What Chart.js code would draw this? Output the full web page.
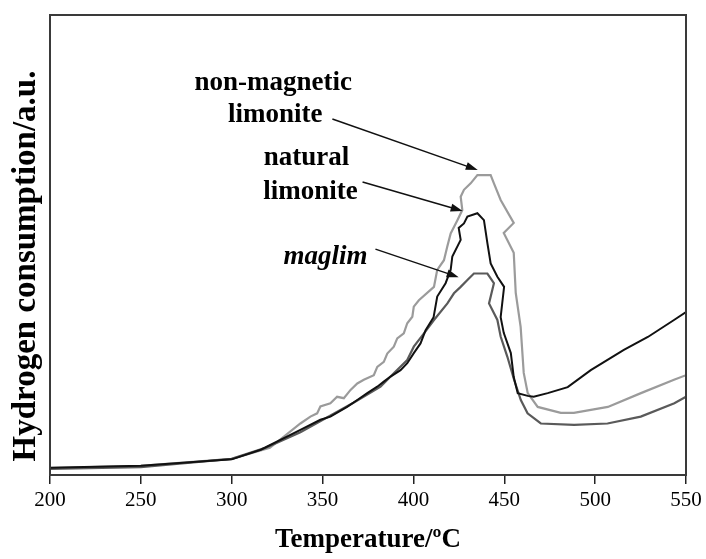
<!DOCTYPE html>
<html>
<head>
<meta charset="utf-8">
<script src="https://cdn.jsdelivr.net/npm/chart.js@4.4.1/dist/chart.umd.min.js"></script>
<style>
  html, body { margin: 0; padding: 0; background: #fff; }
  #wrap { width: 706px; height: 559px; }
</style>
</head>
<body>
<div id="wrap"><canvas id="tprChart" width="706" height="559"></canvas></div>
<script>
// H2-TPR profiles (temperature in °C, consumption in a.u. 0-100)
const nonMagT = [200, 250, 300, 321, 337.8, 343.3, 347.0, 348.8, 354.3, 358.0, 361.7, 365.4, 369.1, 372.7, 378.2, 380.1, 383.7, 385.6, 389.2, 391.1, 394.7, 396.6, 399.4, 400.2, 403.0, 411.3, 413.1, 416.8, 418.6, 420.5, 424.2, 426.9, 426.0, 427.8, 431.5, 435.2, 442.5, 444.3, 448.0, 455.2, 449.7, 455.2, 456.3, 459.0, 460.7, 462.9, 468.4, 481.1, 488.3, 507.0, 525.2, 543.4, 550];
const nonMagH = [1.5, 2.0, 3.5, 5.9, 11.2, 12.7, 13.4, 14.9, 15.6, 17.0, 16.7, 18.5, 19.9, 20.7, 21.7, 23.5, 24.6, 26.4, 27.9, 29.7, 30.8, 33.0, 34.4, 36.6, 38.0, 40.9, 44.6, 46.7, 49.6, 52.5, 55.4, 57.6, 60.5, 62.0, 63.4, 65.2, 65.2, 63.4, 59.8, 54.8, 52.6, 48.3, 39.6, 32.2, 22.2, 17.8, 14.8, 13.5, 13.5, 14.8, 17.8, 20.7, 21.7];

const naturalT = [200, 250, 300, 316, 337.8, 348.8, 354.3, 363.5, 369.1, 374.6, 380.1, 383.7, 387.4, 392.9, 396.6, 400.2, 403.9, 406.7, 411.1, 413.1, 417.7, 420.5, 421.4, 426.0, 424.9, 427.8, 429.7, 435.2, 438.8, 440.7, 442.5, 446.2, 449.9, 448.0, 449.7, 453.6, 455.2, 457.4, 462.9, 466.2, 473.9, 484.9, 497.6, 515.8, 529.0, 543.4, 550];
const naturalH = [1.6, 2.0, 3.4, 5.5, 9.8, 12.0, 12.7, 14.8, 16.3, 17.8, 19.2, 20.3, 21.4, 22.8, 24.3, 26.5, 28.6, 31.5, 34.3, 38.8, 41.7, 44.6, 47.5, 51.1, 53.7, 54.7, 56.2, 56.9, 55.4, 50.4, 46.0, 43.1, 40.9, 34.3, 30.9, 26.5, 21.3, 17.8, 17.2, 17.0, 17.8, 19.1, 22.8, 27.2, 30.0, 33.7, 35.4];

const maglimT = [200, 250, 300, 318.5, 337.8, 367.0, 381.9, 389.2, 396.6, 400.2, 405.8, 411.3, 418.7, 422.3, 426.0, 429.7, 433.3, 440.7, 444.3, 441.6, 446.2, 448.0, 451.7, 455.4, 459.1, 462.8, 470.1, 488.4, 506.8, 525.1, 543.6, 550];
const maglimH = [1.3, 1.7, 3.5, 5.9, 9.3, 15.7, 19.2, 22.1, 25.0, 27.9, 30.8, 33.7, 37.3, 39.5, 40.9, 42.4, 43.8, 43.8, 41.7, 37.3, 33.7, 30.1, 25.7, 20.7, 16.3, 13.4, 11.2, 10.9, 11.2, 12.7, 15.6, 17.0];

const xTicks = [200, 250, 300, 350, 400, 450, 500, 550];

// in-plot labels and their arrows, in data units
const labelText = ['non-magnetic', 'limonite', 'natural', 'limonite', 'maglim'];
const labelT = [322.9, 324.0, 341.1, 343.3, 351.6];
const labelH = [85.2, 78.3, 68.9, 61.5, 47.4];
const labelItalic = [false, false, false, false, true];
const arrowFromT = [355.4, 372.0, 379.1];
const arrowFromH = [77.4, 63.7, 49.1];
const arrowToT = [435.4, 427.1, 424.9];
const arrowToH = [66.3, 57.4, 43.0];

function toPoints(xs, ys) {
    return xs.map(function (x, i) { return { x: x, y: ys[i] }; });
}

const serif = "'Liberation Serif', 'Times New Roman', serif";

const decorPlugin = {
    id: 'decor',
    afterDatasetsDraw(chart) {
        const ctx = chart.ctx;
        const a = chart.chartArea;
        const xs = chart.scales.x;
        const ys = chart.scales.y;
        ctx.save();
        // box around plot
        ctx.strokeStyle = '#3a3a3a';
        ctx.lineWidth = 2;
        ctx.strokeRect(a.left, a.top, a.right - a.left, a.bottom - a.top);

        // labels
        ctx.fillStyle = '#000';
        ctx.textAlign = 'center';
        ctx.textBaseline = 'middle';
        for (let i = 0; i < labelText.length; i++) {
            ctx.font = (labelItalic[i] ? 'italic ' : '') + 'bold 27px ' + serif;
            ctx.fillText(labelText[i], xs.getPixelForValue(labelT[i]), ys.getPixelForValue(labelH[i]));
        }

        // arrows
        ctx.strokeStyle = '#111';
        ctx.lineWidth = 1.5;
        for (let i = 0; i < arrowFromT.length; i++) {
            const x0 = xs.getPixelForValue(arrowFromT[i]), y0 = ys.getPixelForValue(arrowFromH[i]);
            const x1 = xs.getPixelForValue(arrowToT[i]), y1 = ys.getPixelForValue(arrowToH[i]);
            const ang = Math.atan2(y1 - y0, x1 - x0);
            ctx.beginPath();
            ctx.moveTo(x0, y0);
            ctx.lineTo(x1 - 8 * Math.cos(ang), y1 - 8 * Math.sin(ang));
            ctx.stroke();
            ctx.beginPath();
            ctx.moveTo(x1, y1);
            ctx.lineTo(x1 - 12 * Math.cos(ang) + 4 * Math.sin(ang), y1 - 12 * Math.sin(ang) - 4 * Math.cos(ang));
            ctx.lineTo(x1 - 12 * Math.cos(ang) - 4 * Math.sin(ang), y1 - 12 * Math.sin(ang) + 4 * Math.cos(ang));
            ctx.closePath();
            ctx.fillStyle = '#111';
            ctx.fill();
        }

        // y axis title
        ctx.translate(26, 266);
        ctx.rotate(-Math.PI / 2);
        ctx.font = 'bold 33px ' + serif;
        ctx.fillStyle = '#000';
        ctx.fillText('Hydrogen consumption/a.u.', 0, 0);
        ctx.restore();
    }
};

document.addEventListener("DOMContentLoaded", function () {
    const ctx = document.getElementById('tprChart');

    new Chart(ctx, {
        type: 'line',
        data: {
            datasets: [{
                label: 'natural limonite',
                data: toPoints(naturalT, naturalH),
                borderColor: '#111111',
                borderWidth: 2,
                pointRadius: 0,
                fill: false
            }, {
                label: 'maglim',
                data: toPoints(maglimT, maglimH),
                borderColor: '#5a5a5a',
                borderWidth: 2.2,
                pointRadius: 0,
                fill: false
            }, {
                label: 'non-magnetic limonite',
                data: toPoints(nonMagT, nonMagH),
                borderColor: '#9b9b9b',
                borderWidth: 2.2,
                pointRadius: 0,
                fill: false
            }]
        },
        options: {
            responsive: false,
            animation: false,
            devicePixelRatio: 1,
            layout: { padding: { top: 15, right: 20, left: 0, bottom: 0 } },
            plugins: {
                legend: { display: false },
                tooltip: { enabled: false }
            },
            scales: {
                x: {
                    type: 'linear',
                    min: 200,
                    max: 550,
                    afterBuildTicks: function (scale) {
                        scale.ticks = xTicks.map(function (v) { return { value: v }; });
                    },
                    afterFit: function (scale) { scale.height = 84; },
                    grid: {
                        display: true,
                        drawOnChartArea: false,
                        drawTicks: true,
                        tickLength: 9,
                        color: '#222',
                        lineWidth: 1.5
                    },
                    border: { display: true, color: '#222', width: 2 },
                    ticks: {
                        color: '#000',
                        padding: 4,
                        maxRotation: 0,
                        font: { family: serif, size: 21 }
                    },
                    title: {
                        display: true,
                        text: 'Temperature/\u00baC',
                        color: '#000',
                        padding: { top: 0, bottom: 3 },
                        font: { family: serif, size: 27, weight: 'bold' }
                    }
                },
                y: {
                    min: 0,
                    max: 100,
                    afterFit: function (scale) { scale.width = 50; },
                    grid: { display: false },
                    border: { display: true, color: '#222', width: 2 },
                    ticks: { display: false }
                }
            }
        },
        plugins: [decorPlugin]
    });
});
</script>
</body>
</html>
